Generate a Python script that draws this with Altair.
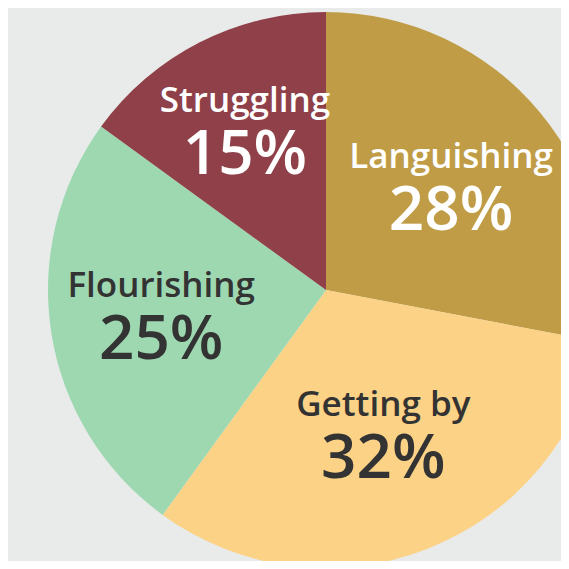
import altair as alt
import pandas as pd

categories = ["Languishing", "Getting by", "Flourishing", "Struggling"]
values = [28, 32, 25, 15]
colors = ["#bf9c45", "#fbd286", "#9ed8b1", "#8f4048"]
text_colors = ["#ffffff", "#333333", "#333333", "#ffffff"]

df = pd.DataFrame({
    "category": categories,
    "value": values,
    "idx": list(range(len(categories))),
    "pct": [f"{v}%" for v in values],
    "tcolor": text_colors,
})

R = 278
CX, CY = 318, 282
BG = "#e9ebea"

base = alt.Chart(df).transform_joinaggregate(
    total="sum(value)"
).transform_window(
    cum="sum(value)", sort=[alt.SortField("idx")], frame=[None, 0]
).transform_calculate(
    a0="(datum.cum - datum.value) / datum.total * 2 * PI",
    a1="datum.cum / datum.total * 2 * PI",
).transform_calculate(
    mid="(datum.a0 + datum.a1) / 2",
    half="(datum.a1 - datum.a0) / 2",
).transform_calculate(
    lr=f"2 * {R} * sin(datum.half) / (3 * datum.half)",
).transform_calculate(
    lx=f"{CX} + datum.lr * sin(datum.mid)",
    ly=f"{CY} - datum.lr * cos(datum.mid)",
)

arcs = base.mark_arc(radius=R, stroke=None).encode(
    theta=alt.Theta("a0:Q", scale=None),
    theta2="a1:Q",
    x=alt.value(CX),
    y=alt.value(CY),
    color=alt.Color("category:N", scale=alt.Scale(domain=categories, range=colors), legend=None),
)

font = "Open Sans"
names = base.mark_text(font=font, fontWeight=600, fontSize=35, align="center",
                       baseline="alphabetic", dy=-19).encode(
    x=alt.X("lx:Q", scale=None),
    y=alt.Y("ly:Q", scale=None),
    text="category:N",
    color=alt.Color("tcolor:N", scale=None),
)

pcts = base.mark_text(font=font, fontWeight=600, fontSize=62, align="center",
                      baseline="alphabetic", dy=43).encode(
    x=alt.X("lx:Q", scale=None),
    y=alt.Y("ly:Q", scale=None),
    text="pct:N",
    color=alt.Color("tcolor:N", scale=None),
)

chart = alt.layer(arcs, names, pcts).properties(
    width=553, height=553, background=BG, padding=0,
    autosize=alt.AutoSizeParams(type="none"),
).configure_view(stroke=None, clip=True)

chart.save("out.html", embed_options={"renderer": "svg", "actions": False})
